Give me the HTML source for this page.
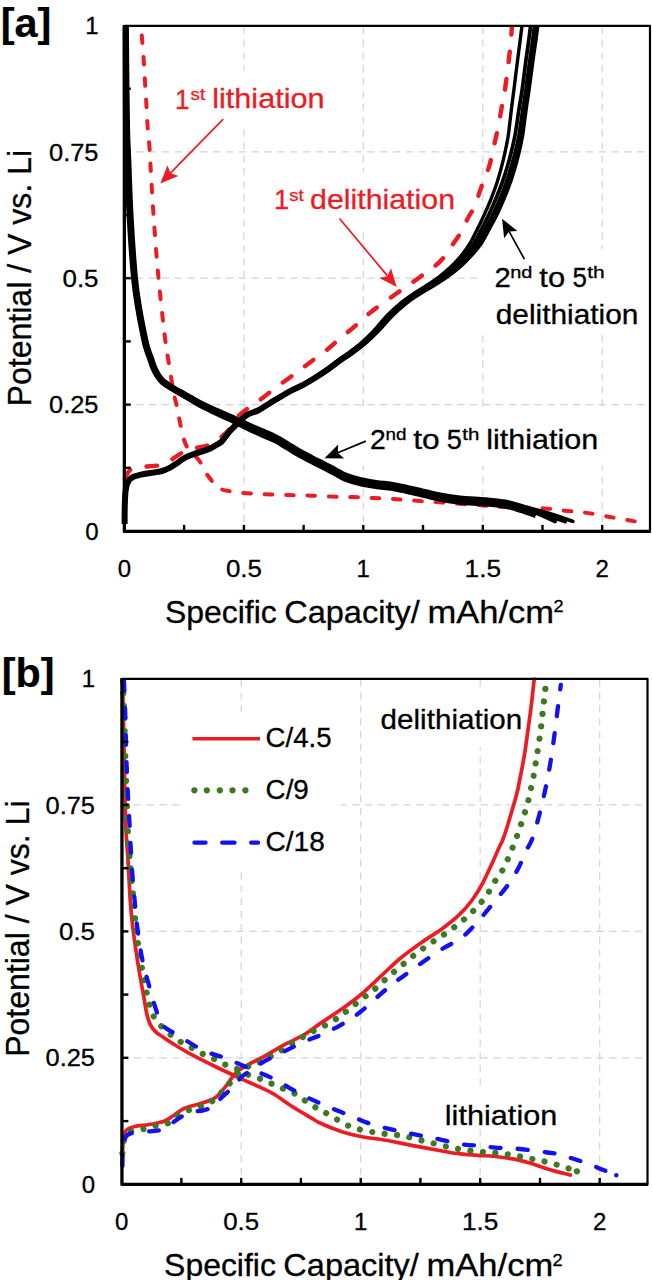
<!DOCTYPE html>
<html><head><meta charset="utf-8"><title>Potential vs specific capacity</title>
<style>
html,body{margin:0;padding:0;background:#fff;}
body{width:652px;height:1280px;overflow:hidden;}
svg{display:block;font-family:"Liberation Sans", sans-serif;}
</style></head><body>
<svg width="652" height="1280" viewBox="0 0 652 1280">
<defs><clipPath id="clipA"><rect x="122.7" y="24" width="529" height="510"/></clipPath></defs>
<rect width="652" height="1280" fill="#fff"/>
<line x1="243.9" y1="26.7" x2="243.9" y2="529.9" stroke="#cfd5dc" stroke-width="1.2" stroke-dasharray="7.2 5.65"/>
<line x1="363.3" y1="26.7" x2="363.3" y2="529.9" stroke="#cfd5dc" stroke-width="1.2" stroke-dasharray="7.2 5.65"/>
<line x1="482.8" y1="26.7" x2="482.8" y2="529.9" stroke="#cfd5dc" stroke-width="1.2" stroke-dasharray="7.2 5.65"/>
<line x1="602.2" y1="26.7" x2="602.2" y2="529.9" stroke="#cfd5dc" stroke-width="1.2" stroke-dasharray="7.2 5.65"/>
<line x1="123.1" y1="404.6" x2="649.0" y2="404.6" stroke="#cfd5dc" stroke-width="1.2" stroke-dasharray="7.4 5.45"/>
<line x1="123.1" y1="278.2" x2="649.0" y2="278.2" stroke="#cfd5dc" stroke-width="1.2" stroke-dasharray="7.4 5.45"/>
<line x1="123.1" y1="151.9" x2="649.0" y2="151.9" stroke="#cfd5dc" stroke-width="1.2" stroke-dasharray="7.4 5.45"/>
<rect x="172" y="71" width="155" height="57" fill="#fff"/>
<rect x="272" y="172" width="186" height="59" fill="#fff"/>
<rect x="477" y="249" width="171" height="84" fill="#fff"/>
<rect x="361" y="412" width="243" height="54" fill="#fff"/>
<path d="M141.8,35.5 C142.1,39.6 143.2,52.2 143.7,60.0 C144.2,67.8 144.6,74.8 145.0,82.0 C145.4,89.2 145.9,95.8 146.3,103.0 C146.7,110.2 147.0,117.8 147.5,125.0 C148.0,132.2 148.9,139.0 149.4,146.0 C149.9,153.0 149.9,155.3 150.6,167.0 C151.3,178.7 152.3,197.7 153.6,216.0 C154.9,234.3 156.5,256.7 158.4,277.0 C160.3,297.3 163.1,322.5 165.0,338.0 C166.9,353.5 168.6,361.0 170.0,370.0 C171.4,379.0 172.4,386.2 173.5,392.0 C174.6,397.8 175.5,400.3 176.5,405.0 C177.5,409.7 178.4,414.7 179.5,420.0 C180.6,425.3 182.0,432.7 183.2,437.0 C184.4,441.3 185.2,443.5 186.5,446.0 C187.8,448.5 189.4,450.2 191.0,452.0 C192.6,453.8 194.6,455.2 196.2,457.0 C197.8,458.8 199.3,460.5 200.8,463.0 C202.3,465.5 203.6,469.1 205.4,472.0 C207.2,474.9 209.7,478.2 211.6,480.6 C213.5,483.0 215.1,485.0 217.0,486.5 C218.9,488.0 220.8,489.0 223.0,489.8 C225.2,490.6 227.2,490.7 230.0,491.2 C232.8,491.7 234.7,492.3 240.0,492.8 C245.3,493.3 254.5,493.6 262.0,494.0 C269.5,494.4 277.7,494.8 285.0,495.0 C292.3,495.2 298.5,495.1 306.0,495.4 C313.5,495.6 322.3,496.2 330.0,496.5 C337.7,496.8 344.8,496.8 352.0,497.0 C359.2,497.2 366.2,497.7 373.0,498.0 C379.8,498.3 385.2,498.5 393.0,499.0 C400.8,499.5 407.2,500.1 420.0,501.0 C432.8,501.9 455.8,503.5 470.0,504.5 C484.2,505.5 492.7,506.4 505.0,507.0 C517.3,507.6 534.0,507.8 544.0,508.4 C554.0,509.0 558.2,510.0 565.0,510.7 C571.8,511.4 577.5,511.6 585.0,512.6 C592.5,513.6 601.7,515.5 610.0,517.0 C618.3,518.5 629.9,520.5 634.7,521.4 C639.5,522.3 638.3,522.1 639.0,522.2" fill="none" stroke="#ec1c24" stroke-width="4.0" stroke-linejoin="round" stroke-linecap="round" stroke-dasharray="7.6 13.8"/>
<path d="M124.9,479.0 C125.4,477.9 126.8,474.2 128.0,472.5 C129.2,470.8 130.0,469.9 131.8,469.0 C133.6,468.1 136.6,467.4 139.0,467.0 C141.4,466.6 143.0,466.8 146.4,466.5 C149.8,466.2 156.1,465.8 159.4,465.3 C162.7,464.8 163.8,464.5 166.0,463.5 C168.2,462.5 170.4,460.5 172.4,459.1 C174.4,457.7 176.1,456.6 178.0,455.3 C179.9,454.0 182.0,452.6 184.0,451.5 C186.0,450.4 187.7,449.7 190.0,449.0 C192.3,448.3 195.5,447.9 197.8,447.5 C200.1,447.1 202.0,446.8 204.0,446.3 C206.0,445.8 207.9,445.4 210.0,444.6 C212.1,443.8 214.5,442.9 216.5,441.5 C218.5,440.1 220.1,438.3 222.0,436.5 C223.9,434.7 226.1,433.1 227.9,430.9 C229.7,428.7 231.2,426.0 233.0,423.5 C234.8,421.0 236.5,418.2 238.7,415.9 C240.9,413.6 243.3,411.6 246.2,409.5 C249.0,407.4 252.8,405.1 255.8,403.0 C258.8,400.9 261.2,399.1 264.4,396.6 C267.6,394.1 270.9,391.2 275.2,388.0 C279.5,384.8 285.5,380.6 290.2,377.2 C294.9,373.8 298.8,370.8 303.1,367.6 C307.4,364.4 311.7,361.1 316.0,357.9 C320.3,354.7 325.2,351.2 328.8,348.3 C332.4,345.4 333.4,344.1 337.4,340.7 C341.4,337.3 347.3,332.6 353.0,327.8 C358.7,323.0 364.1,317.4 371.4,311.7 C378.7,305.9 388.6,299.1 396.7,293.3 C404.8,287.6 412.4,282.6 419.7,277.2 C427.0,271.8 434.6,267.0 440.4,261.1 C446.2,255.2 451.1,246.8 454.6,241.8 C458.1,236.8 459.2,235.2 461.5,231.1 C463.8,227.0 466.2,221.4 468.4,217.3 C470.6,213.2 472.6,210.9 474.5,206.6 C476.4,202.2 478.4,195.5 479.9,191.2 C481.4,186.8 482.2,184.6 483.7,180.5 C485.2,176.4 487.7,171.0 489.1,166.7 C490.5,162.3 491.0,159.0 492.1,154.4 C493.2,149.8 494.5,143.7 495.5,139.1 C496.5,134.5 497.4,131.4 498.3,126.8 C499.2,122.2 500.2,116.1 501.0,111.5 C501.8,106.9 502.3,103.4 503.0,99.2 C503.7,95.0 504.3,94.2 505.4,86.6 C506.5,78.9 508.5,63.1 509.6,53.3 C510.7,43.5 511.5,31.8 511.9,27.5" fill="none" stroke="#ec1c24" stroke-width="4.4" stroke-linejoin="round" stroke-linecap="round" stroke-dasharray="10.5 17"/>
<path d="M125.4,27.0 C125.5,35.8 125.7,62.8 125.9,80.0 C126.1,97.2 126.3,116.7 126.6,130.0 C126.9,143.3 127.2,145.7 127.8,160.0 C128.4,174.3 129.0,196.3 130.1,216.0 C131.2,235.7 133.0,262.3 134.5,278.0 C136.0,293.7 137.3,299.7 139.0,310.0 C140.7,320.3 143.4,333.3 144.8,340.0 C146.2,346.7 146.6,346.9 147.5,350.0 C148.4,353.1 149.5,355.5 150.5,358.3 C151.5,361.1 152.2,363.8 153.3,366.6 C154.5,369.4 155.8,372.4 157.4,374.9 C159.0,377.4 160.9,379.9 163.0,381.8 C165.1,383.8 167.2,384.9 169.9,386.6 C172.7,388.3 176.1,390.2 179.5,392.1 C182.9,394.1 186.7,396.1 190.6,398.3 C194.5,400.5 198.6,403.0 203.0,405.2 C207.4,407.4 212.2,409.4 216.8,411.5 C221.4,413.6 226.9,415.8 230.6,417.5 C234.3,419.2 235.4,419.8 239.0,421.5 C242.6,423.2 247.7,425.6 252.0,427.5 C256.3,429.4 260.8,431.2 265.0,433.0 C269.2,434.8 273.3,436.6 277.0,438.5 C280.7,440.4 283.3,442.3 287.0,444.5 C290.7,446.7 294.9,449.5 299.0,451.8 C303.1,454.1 307.4,456.3 311.7,458.5 C315.9,460.7 320.6,463.0 324.5,465.0 C328.4,467.0 331.5,468.7 335.0,470.5 C338.5,472.3 341.0,474.3 345.3,476.0 C349.6,477.7 355.6,479.4 360.7,480.6 C365.8,481.8 370.9,482.6 376.0,483.4 C381.1,484.2 386.2,484.4 391.3,485.2 C396.4,486.0 401.6,487.2 406.7,488.3 C411.8,489.4 416.4,490.5 422.0,491.8 C427.6,493.1 433.7,494.8 440.0,496.0 C446.3,497.2 452.3,498.2 460.0,499.0 C467.7,499.8 478.8,500.1 486.4,500.8 C493.9,501.5 499.6,501.9 505.3,503.0 C511.0,504.1 515.6,505.6 520.7,507.2 C525.8,508.8 533.5,511.6 536.0,512.5" fill="none" stroke="#000" stroke-width="7.0" stroke-linejoin="round" stroke-linecap="butt" clip-path="url(#clipA)"/>
<path d="M163.0,381.8 C164.2,382.6 167.2,384.8 169.9,386.6 C172.7,388.4 176.1,390.3 179.5,392.4 C182.9,394.4 186.7,396.6 190.6,398.8 C194.5,401.1 198.6,403.8 203.0,406.1 C207.4,408.4 212.2,410.6 216.8,412.7 C221.4,414.9 226.9,417.4 230.6,419.1 C234.3,420.9 235.4,421.6 239.0,423.3 C242.6,425.1 247.7,427.7 252.0,429.7 C256.3,431.7 260.8,433.5 265.0,435.4 C269.2,437.3 273.3,439.0 277.0,440.9 C280.7,442.8 283.3,444.7 287.0,446.9 C290.7,449.1 294.9,451.9 299.0,454.2 C303.1,456.5 307.4,458.7 311.7,460.9 C315.9,463.1 320.6,465.4 324.5,467.4 C328.4,469.4 331.5,471.1 335.0,472.9 C338.5,474.7 341.0,476.7 345.3,478.4 C349.6,480.1 355.6,481.8 360.7,483.0 C365.8,484.2 370.9,485.0 376.0,485.8 C381.1,486.6 386.2,486.8 391.3,487.6 C396.4,488.4 401.6,489.6 406.7,490.7 C411.8,491.8 416.4,492.9 422.0,494.2 C427.6,495.5 433.7,497.2 440.0,498.4 C446.3,499.6 452.3,500.6 460.0,501.4 C467.7,502.2 478.8,502.5 486.4,503.2 C493.9,503.9 499.6,504.3 505.3,505.4 C511.0,506.5 515.6,508.0 520.7,509.6 C525.8,511.2 533.5,514.0 536.0,514.9" fill="none" stroke="#000" stroke-width="6.6" stroke-linejoin="round" stroke-linecap="butt"/>
<path d="M515.0,505.5 C517.5,506.3 525.0,508.6 530.0,510.5 C535.0,512.4 540.8,515.1 545.0,517.0 C549.2,518.9 553.5,520.8 555.2,521.6" fill="none" stroke="#000" stroke-width="3.6" stroke-linejoin="round" stroke-linecap="round"/>
<path d="M515.0,505.3 C517.8,506.1 526.2,508.1 532.0,510.0 C537.8,511.9 544.5,514.5 550.0,516.5 C555.5,518.5 562.7,520.8 565.2,521.7" fill="none" stroke="#000" stroke-width="3.6" stroke-linejoin="round" stroke-linecap="round"/>
<path d="M515.0,505.0 C518.3,505.8 528.2,507.8 535.0,509.5 C541.8,511.2 549.7,513.5 556.0,515.5 C562.3,517.5 570.0,520.4 572.8,521.4" fill="none" stroke="#000" stroke-width="3.6" stroke-linejoin="round" stroke-linecap="round"/>
<path d="M124.2,524.0 C124.2,520.8 124.2,510.7 124.4,505.0 C124.6,499.3 124.6,494.1 125.3,490.0 C125.9,485.9 127.0,482.7 128.2,480.5 C129.5,478.3 130.8,477.8 132.8,476.8 C134.9,475.8 138.0,475.2 140.5,474.6 C143.1,474.0 145.4,473.8 148.2,473.3 C151.0,472.9 154.9,472.4 157.4,471.9 C160.0,471.4 161.5,471.0 163.5,470.3 C165.6,469.6 167.6,468.7 169.6,467.6 C171.7,466.5 173.8,465.1 175.8,463.7 C177.9,462.3 179.9,460.6 181.9,459.3 C183.9,458.0 185.8,457.0 188.0,456.0 C190.3,455.0 193.1,454.1 195.6,453.2 C198.2,452.3 200.7,451.7 203.3,450.8 C205.8,449.9 208.9,448.8 210.9,447.8 C213.0,446.8 213.9,446.0 215.5,445.0 C217.1,444.0 219.2,443.2 220.8,441.7 C222.4,440.2 223.8,437.8 225.2,436.0 C226.6,434.2 227.0,433.2 229.1,430.9 C231.2,428.6 234.9,425.0 237.7,422.3 C240.6,419.6 242.9,416.8 246.1,414.8 C249.3,412.8 253.7,412.1 256.9,410.5 C260.1,408.9 262.2,407.2 265.4,405.2 C268.6,403.2 272.1,401.0 276.0,398.7 C279.9,396.4 284.6,393.5 288.8,391.2 C293.1,388.9 297.4,387.1 301.7,384.8 C305.9,382.5 310.2,379.9 314.4,377.2 C318.7,374.5 323.1,371.5 327.1,368.7 C331.0,365.9 334.3,363.1 338.1,360.3 C341.9,357.5 346.0,355.0 350.0,352.0 C353.9,349.0 357.9,346.0 361.8,342.5 C365.7,339.0 369.4,335.5 373.6,331.0 C377.8,326.5 382.6,320.2 387.1,315.5 C391.6,310.8 396.2,306.7 400.7,303.0 C405.1,299.3 409.5,296.5 413.9,293.5 C418.3,290.5 422.7,288.1 427.0,285.2 C431.4,282.3 436.1,279.1 440.1,276.0 C444.1,272.9 447.3,270.2 450.9,266.8 C454.4,263.4 458.3,259.2 461.5,255.3 C464.7,251.4 467.2,248.0 470.0,243.4 C472.7,238.8 475.4,233.1 477.9,228.0 C480.4,222.9 483.0,217.8 485.2,212.7 C487.5,207.6 489.7,202.5 491.7,197.4 C493.6,192.3 495.5,187.1 497.2,182.0 C498.8,176.9 500.3,171.8 501.6,166.7 C502.9,161.6 504.1,156.4 505.2,151.3 C506.3,146.2 507.4,141.1 508.2,136.0 C509.0,130.9 509.4,125.8 510.1,120.7 C510.7,115.6 511.2,110.4 511.9,105.3 C512.5,100.2 512.9,97.5 513.9,90.0 C514.8,82.5 516.5,68.3 517.6,60.0 C518.7,51.7 519.5,45.7 520.2,40.0 C520.9,34.3 521.7,28.3 521.9,26.0" fill="none" stroke="#000" stroke-width="3.4" stroke-linejoin="round" stroke-linecap="butt"/>
<path d="M124.5,524.0 C124.5,520.8 124.5,510.7 124.7,505.0 C124.9,499.3 124.9,494.1 125.6,490.0 C126.2,485.9 127.3,482.7 128.6,480.5 C129.8,478.3 131.1,477.8 133.2,476.8 C135.2,475.8 138.3,475.2 140.9,474.6 C143.4,474.0 145.8,473.8 148.6,473.3 C151.4,472.9 155.2,472.4 157.8,471.9 C160.3,471.4 161.8,471.0 163.9,470.3 C165.9,469.6 167.9,468.7 170.0,467.6 C172.0,466.5 174.1,465.1 176.2,463.7 C178.2,462.3 180.2,460.6 182.3,459.3 C184.3,458.0 186.1,457.0 188.4,456.0 C190.7,455.0 193.5,454.1 196.0,453.2 C198.6,452.3 201.2,451.7 203.7,450.8 C206.3,449.9 209.4,448.8 211.4,447.8 C213.5,446.8 214.4,446.0 216.0,445.0 C217.7,444.0 219.7,443.2 221.3,441.7 C222.9,440.2 224.4,437.8 225.8,436.0 C227.2,434.2 227.6,433.2 229.8,430.9 C231.9,428.6 235.6,425.0 238.4,422.3 C241.3,419.6 243.7,416.8 246.9,414.8 C250.1,412.8 254.5,412.1 257.7,410.5 C260.9,408.9 263.1,407.2 266.3,405.2 C269.5,403.2 273.0,401.0 276.9,398.7 C280.9,396.4 285.5,393.5 289.8,391.2 C294.1,388.9 298.4,387.1 302.7,384.8 C307.0,382.5 311.3,379.9 315.6,377.2 C319.8,374.5 324.3,371.5 328.3,368.7 C332.3,365.9 335.6,363.1 339.5,360.3 C343.3,357.5 347.4,355.0 351.4,352.0 C355.4,349.0 359.4,346.0 363.4,342.5 C367.4,339.0 371.0,335.5 375.3,331.0 C379.6,326.5 384.5,320.2 389.0,315.5 C393.6,310.8 398.2,306.7 402.8,303.0 C407.3,299.3 411.8,296.5 416.3,293.5 C420.7,290.5 425.2,288.1 429.7,285.2 C434.1,282.3 439.0,279.1 443.1,276.0 C447.1,272.9 450.5,270.2 454.1,266.8 C457.8,263.4 461.8,259.2 465.1,255.3 C468.4,251.4 471.1,248.0 474.0,243.4 C476.8,238.8 479.5,233.1 482.1,228.0 C484.8,222.9 487.4,217.8 489.7,212.7 C492.1,207.6 494.3,202.5 496.4,197.4 C498.5,192.3 500.5,187.1 502.4,182.0 C504.2,176.9 505.8,171.8 507.3,166.7 C508.8,161.6 510.2,156.4 511.4,151.3 C512.7,146.2 513.9,141.1 514.9,136.0 C515.9,130.9 516.5,125.8 517.3,120.7 C518.0,115.6 518.8,110.4 519.6,105.3 C520.4,100.2 521.0,97.5 522.1,90.0 C523.2,82.5 524.9,68.3 526.0,60.0 C527.1,51.7 528.0,45.7 528.8,40.0 C529.5,34.3 530.3,28.3 530.6,26.0" fill="none" stroke="#000" stroke-width="3.7" stroke-linejoin="round" stroke-linecap="butt"/>
<path d="M124.7,524.0 C124.8,520.8 124.8,510.7 125.0,505.0 C125.1,499.3 125.2,494.1 125.9,490.0 C126.5,485.9 127.6,482.7 128.9,480.5 C130.1,478.3 131.4,477.8 133.5,476.8 C135.5,475.8 138.6,475.2 141.2,474.6 C143.7,474.0 146.1,473.8 148.9,473.3 C151.7,472.9 155.5,472.4 158.1,471.9 C160.6,471.4 162.1,471.0 164.2,470.3 C166.2,469.6 168.2,468.7 170.3,467.6 C172.3,466.5 174.4,465.1 176.5,463.7 C178.5,462.3 180.5,460.6 182.6,459.3 C184.6,458.0 186.5,457.0 188.8,456.0 C191.1,455.0 193.9,454.1 196.4,453.2 C199.0,452.3 201.6,451.7 204.1,450.8 C206.7,449.9 209.8,448.8 211.8,447.8 C213.9,446.8 214.8,446.0 216.4,445.0 C218.1,444.0 220.1,443.2 221.8,441.7 C223.4,440.2 224.9,437.8 226.3,436.0 C227.7,434.2 228.2,433.2 230.3,430.9 C232.4,428.6 236.2,425.0 239.0,422.3 C241.9,419.6 244.4,416.8 247.6,414.8 C250.8,412.8 255.2,412.1 258.4,410.5 C261.6,408.9 263.8,407.2 267.0,405.2 C270.3,403.2 273.8,401.0 277.8,398.7 C281.7,396.4 286.4,393.5 290.7,391.2 C295.0,388.9 299.3,387.1 303.6,384.8 C307.9,382.5 312.3,379.9 316.6,377.2 C320.9,374.5 325.4,371.5 329.4,368.7 C333.4,365.9 336.8,363.1 340.7,360.3 C344.6,357.5 348.7,355.0 352.7,352.0 C356.7,349.0 360.8,346.0 364.8,342.5 C368.8,339.0 372.5,335.5 376.9,331.0 C381.2,326.5 386.1,320.2 390.8,315.5 C395.4,310.8 400.1,306.7 404.7,303.0 C409.3,299.3 413.8,296.5 418.4,293.5 C422.9,290.5 427.5,288.1 432.0,285.2 C436.6,282.3 441.5,279.1 445.7,276.0 C449.8,272.9 453.2,270.2 457.0,266.8 C460.8,263.4 464.9,259.2 468.3,255.3 C471.7,251.4 474.6,248.0 477.5,243.4 C480.4,238.8 483.2,233.1 485.9,228.0 C488.6,222.9 491.3,217.8 493.8,212.7 C496.2,207.6 498.3,202.5 500.5,197.4 C502.6,192.3 504.6,187.1 506.4,182.0 C508.3,176.9 509.8,171.8 511.3,166.7 C512.8,161.6 514.2,156.4 515.5,151.3 C516.7,146.2 517.9,141.1 518.9,136.0 C519.8,130.9 520.4,125.8 521.2,120.7 C521.9,115.6 522.7,110.4 523.4,105.3 C524.2,100.2 524.8,97.5 525.9,90.0 C526.9,82.5 528.7,68.3 529.9,60.0 C531.0,51.7 531.9,45.7 532.7,40.0 C533.4,34.3 534.2,28.3 534.5,26.0" fill="none" stroke="#000" stroke-width="3.7" stroke-linejoin="round" stroke-linecap="butt"/>
<path d="M125.0,524.0 C125.0,520.8 125.0,510.7 125.2,505.0 C125.4,499.3 125.5,494.1 126.1,490.0 C126.8,485.9 127.9,482.7 129.2,480.5 C130.4,478.3 131.7,477.8 133.8,476.8 C135.8,475.8 138.9,475.2 141.5,474.6 C144.0,474.0 146.4,473.8 149.2,473.3 C152.0,472.9 155.8,472.4 158.4,471.9 C160.9,471.4 162.4,471.0 164.5,470.3 C166.5,469.6 168.5,468.7 170.6,467.6 C172.6,466.5 174.7,465.1 176.8,463.7 C178.8,462.3 180.8,460.6 182.9,459.3 C185.0,458.0 186.8,457.0 189.2,456.0 C191.5,455.0 194.2,454.1 196.8,453.2 C199.3,452.3 201.9,451.7 204.5,450.8 C207.1,449.9 210.2,448.8 212.3,447.8 C214.3,446.8 215.2,446.0 216.9,445.0 C218.6,444.0 220.6,443.2 222.2,441.7 C223.9,440.2 225.4,437.8 226.8,436.0 C228.2,434.2 228.7,433.2 230.9,430.9 C233.0,428.6 236.8,425.0 239.7,422.3 C242.6,419.6 245.0,416.8 248.3,414.8 C251.5,412.8 255.9,412.1 259.1,410.5 C262.4,408.9 264.5,407.2 267.8,405.2 C271.0,403.2 274.6,401.0 278.6,398.7 C282.5,396.4 287.2,393.5 291.6,391.2 C295.9,388.9 300.2,387.1 304.5,384.8 C308.9,382.5 313.2,379.9 317.6,377.2 C321.9,374.5 326.5,371.5 330.5,368.7 C334.6,365.9 338.0,363.1 341.9,360.3 C345.8,357.5 350.0,355.0 354.0,352.0 C358.1,349.0 362.1,346.0 366.2,342.5 C370.3,339.0 374.0,335.5 378.4,331.0 C382.8,326.5 387.8,320.2 392.5,315.5 C397.2,310.8 401.9,306.7 406.5,303.0 C411.2,299.3 415.8,296.5 420.5,293.5 C425.1,290.5 429.7,288.1 434.4,285.2 C439.0,282.3 444.0,279.1 448.3,276.0 C452.5,272.9 456.0,270.2 459.9,266.8 C463.8,263.4 468.0,259.2 471.5,255.3 C475.1,251.4 478.0,248.0 481.1,243.4 C484.1,238.8 486.9,233.1 489.7,228.0 C492.5,222.9 495.3,217.8 497.8,212.7 C500.2,207.6 502.4,202.5 504.5,197.4 C506.7,192.3 508.6,187.1 510.4,182.0 C512.2,176.9 513.7,171.8 515.2,166.7 C516.7,161.6 518.0,156.4 519.2,151.3 C520.4,146.2 521.5,141.1 522.4,136.0 C523.3,130.9 523.8,125.8 524.5,120.7 C525.2,115.6 525.9,110.4 526.6,105.3 C527.4,100.2 527.8,97.5 528.9,90.0 C529.9,82.5 531.8,68.3 532.9,60.0 C534.1,51.7 535.0,45.7 535.8,40.0 C536.6,34.3 537.3,28.3 537.7,26.0" fill="none" stroke="#000" stroke-width="3.7" stroke-linejoin="round" stroke-linecap="butt"/>
<path d="M419.4,293.5 C421.7,292.1 428.6,288.1 433.2,285.2 C437.8,282.3 442.8,279.1 447.0,276.0 C451.2,272.9 454.6,270.2 458.5,266.8 C462.3,263.4 466.5,259.2 469.9,255.3 C473.4,251.4 476.3,248.0 479.3,243.4 C482.3,238.8 485.1,233.1 487.8,228.0 C490.6,222.9 493.3,217.8 495.8,212.7 C498.2,207.6 500.4,202.5 502.5,197.4 C504.6,192.3 506.6,187.1 508.4,182.0 C510.2,176.9 511.8,171.8 513.3,166.7 C514.8,161.6 516.1,156.4 517.3,151.3 C518.6,146.2 519.7,141.1 520.6,136.0 C521.6,130.9 522.1,125.8 522.9,120.7 C523.6,115.6 524.3,110.4 525.0,105.3 C525.8,100.2 526.3,97.5 527.4,90.0 C528.4,82.5 530.3,68.3 531.4,60.0 C532.5,51.7 533.4,45.7 534.2,40.0 C535.0,34.3 535.8,28.3 536.1,26.0" fill="none" stroke="#000" stroke-width="3.6" stroke-linejoin="round" stroke-linecap="butt"/>
<path d="M124.6,524.0 C124.6,520.8 124.6,510.7 124.8,505.0 C125.0,499.3 125.1,494.1 125.7,490.0 C126.3,485.9 127.4,482.7 128.7,480.5 C130.0,478.3 131.2,477.8 133.3,476.8 C135.4,475.8 138.4,475.2 141.0,474.6 C143.6,474.0 145.9,473.8 148.7,473.3 C151.5,472.9 155.3,472.4 157.9,471.9 C160.5,471.4 162.0,471.0 164.0,470.3 C166.0,469.6 168.0,468.7 170.1,467.6 C172.2,466.5 174.2,465.1 176.3,463.7 C178.4,462.3 180.4,460.6 182.4,459.3 C184.4,458.0 186.3,457.0 188.6,456.0 C190.9,455.0 193.6,454.1 196.2,453.2 C198.8,452.3 201.3,451.7 203.9,450.8 C206.5,449.9 209.6,448.8 211.6,447.8 C213.6,446.8 214.5,446.0 216.2,445.0 C217.8,444.0 219.9,443.2 221.5,441.7 C223.1,440.2 224.6,437.8 226.0,436.0 C227.4,434.2 227.9,433.2 230.0,430.9 C232.1,428.6 235.8,425.0 238.7,422.3 C241.6,419.6 244.0,416.8 247.2,414.8 C250.4,412.8 254.8,412.1 258.0,410.5 C261.2,408.9 263.4,407.2 266.6,405.2 C269.8,403.2 273.4,401.0 277.3,398.7 C281.2,396.4 285.9,393.5 290.2,391.2 C294.5,388.9 298.8,387.1 303.1,384.8 C307.4,382.5 311.7,379.9 316.0,377.2 C320.3,374.5 324.8,371.5 328.8,368.7 C332.8,365.9 336.1,363.1 340.0,360.3 C343.9,357.5 348.0,355.0 352.0,352.0 C356.0,349.0 360.0,346.0 364.0,342.5 C368.0,339.0 371.7,335.5 376.0,331.0 C380.3,326.5 385.2,320.2 389.8,315.5 C394.4,310.8 399.0,306.7 403.6,303.0 C408.2,299.3 412.7,296.5 417.2,293.5 C421.7,290.5 426.2,288.1 430.7,285.2 C435.2,282.3 440.1,279.1 444.2,276.0 C448.3,272.9 453.5,268.3 455.4,266.8" fill="none" stroke="#000" stroke-width="6.0" stroke-linejoin="round" stroke-linecap="butt"/>
<line x1="223.2" y1="119.2" x2="170.4" y2="173.1" stroke="#ec1c24" stroke-width="1.7"/><polygon points="160.3,183.4 167.5,165.2 170.4,173.1 178.3,175.9" fill="#ec1c24"/>
<line x1="339.5" y1="218.5" x2="387.5" y2="275.9" stroke="#ec1c24" stroke-width="1.7"/><polygon points="396.7,287.0 379.3,278.1 387.5,275.9 391.0,268.3" fill="#ec1c24"/>
<line x1="524.4" y1="259.2" x2="509.1" y2="231.4" stroke="#000" stroke-width="1.7"/><polygon points="502.1,218.8 517.5,230.9 509.1,231.4 504.1,238.2" fill="#000"/>
<line x1="365.8" y1="441.1" x2="337.8" y2="452.8" stroke="#000" stroke-width="1.7"/><polygon points="324.5,458.3 338.2,444.4 337.8,452.8 344.0,458.4" fill="#000"/>
<text x="175.1" y="108.6" font-size="27.5" fill="#ec1c24" stroke="#ec1c24" stroke-width="0.30" font-weight="normal" text-anchor="start" textLength="14.6" lengthAdjust="spacingAndGlyphs">1</text>
<text x="190.6" y="100.2" font-size="16.8" fill="#ec1c24" stroke="#ec1c24" stroke-width="0.30" font-weight="normal" text-anchor="start" textLength="14.6" lengthAdjust="spacingAndGlyphs">st</text>
<text x="212.2" y="108.4" font-size="27.2" fill="#ec1c24" stroke="#ec1c24" stroke-width="0.30" font-weight="normal" text-anchor="start" textLength="112.4" lengthAdjust="spacingAndGlyphs">lithiation</text>
<text x="273.9" y="209.3" font-size="27.5" fill="#ec1c24" stroke="#ec1c24" stroke-width="0.30" font-weight="normal" text-anchor="start" textLength="15.2" lengthAdjust="spacingAndGlyphs">1</text>
<text x="289.3" y="200.5" font-size="16.8" fill="#ec1c24" stroke="#ec1c24" stroke-width="0.30" font-weight="normal" text-anchor="start" textLength="14.5" lengthAdjust="spacingAndGlyphs">st</text>
<text x="310.1" y="209.3" font-size="27.2" fill="#ec1c24" stroke="#ec1c24" stroke-width="0.30" font-weight="normal" text-anchor="start" textLength="144.9" lengthAdjust="spacingAndGlyphs">delithiation</text>
<text x="494.6" y="287.3" font-size="27.5" fill="#000" stroke="#000" stroke-width="0.30" font-weight="normal" text-anchor="start" textLength="16.3" lengthAdjust="spacingAndGlyphs">2</text>
<text x="510.2" y="278.1" font-size="16.5" fill="#000" stroke="#000" stroke-width="0.30" font-weight="normal" text-anchor="start" textLength="22.2" lengthAdjust="spacingAndGlyphs">nd</text>
<text x="539.3" y="287.3" font-size="27.5" fill="#000" stroke="#000" stroke-width="0.30" font-weight="normal" text-anchor="start" textLength="25.8" lengthAdjust="spacingAndGlyphs">to</text>
<text x="572.5" y="287.3" font-size="27.5" fill="#000" stroke="#000" stroke-width="0.30" font-weight="normal" text-anchor="start" textLength="14.4" lengthAdjust="spacingAndGlyphs">5</text>
<text x="587.2" y="278.1" font-size="16.5" fill="#000" stroke="#000" stroke-width="0.30" font-weight="normal" text-anchor="start" textLength="17.5" lengthAdjust="spacingAndGlyphs">th</text>
<text x="495.7" y="323.7" font-size="27.2" fill="#000" stroke="#000" stroke-width="0.30" font-weight="normal" text-anchor="start" textLength="142.8" lengthAdjust="spacingAndGlyphs">delithiation</text>
<text x="370.0" y="449.4" font-size="27.5" fill="#000" stroke="#000" stroke-width="0.30" font-weight="normal" text-anchor="start" textLength="15.8" lengthAdjust="spacingAndGlyphs">2</text>
<text x="385.5" y="440.2" font-size="16.5" fill="#000" stroke="#000" stroke-width="0.30" font-weight="normal" text-anchor="start" textLength="20.9" lengthAdjust="spacingAndGlyphs">nd</text>
<text x="413.3" y="449.4" font-size="27.5" fill="#000" stroke="#000" stroke-width="0.30" font-weight="normal" text-anchor="start" textLength="26.5" lengthAdjust="spacingAndGlyphs">to</text>
<text x="446.7" y="449.4" font-size="27.5" fill="#000" stroke="#000" stroke-width="0.30" font-weight="normal" text-anchor="start" textLength="15.1" lengthAdjust="spacingAndGlyphs">5</text>
<text x="462.2" y="440.2" font-size="16.5" fill="#000" stroke="#000" stroke-width="0.30" font-weight="normal" text-anchor="start" textLength="17.1" lengthAdjust="spacingAndGlyphs">th</text>
<text x="486.3" y="449.2" font-size="27.2" fill="#000" stroke="#000" stroke-width="0.30" font-weight="normal" text-anchor="start" textLength="111.9" lengthAdjust="spacingAndGlyphs">lithiation</text>
<path d="M124.35,25.90 H650.00 V531.40" fill="none" stroke="#000" stroke-width="2.2" stroke-linejoin="round"/>
<path d="M124.35,25.10 V531.40 H650.80" fill="none" stroke="#000" stroke-width="3.3" stroke-linejoin="round"/>
<line x1="124.3" y1="467.8" x2="130.8" y2="467.8" stroke="#000" stroke-width="2.4"/>
<line x1="124.3" y1="404.6" x2="130.8" y2="404.6" stroke="#000" stroke-width="2.4"/>
<line x1="124.3" y1="341.4" x2="130.8" y2="341.4" stroke="#000" stroke-width="2.4"/>
<line x1="124.3" y1="278.2" x2="130.8" y2="278.2" stroke="#000" stroke-width="2.4"/>
<line x1="124.3" y1="215.1" x2="130.8" y2="215.1" stroke="#000" stroke-width="2.4"/>
<line x1="124.3" y1="151.9" x2="130.8" y2="151.9" stroke="#000" stroke-width="2.4"/>
<line x1="124.3" y1="88.7" x2="130.8" y2="88.7" stroke="#000" stroke-width="2.4"/>
<line x1="184.1" y1="531.4" x2="184.1" y2="524.9" stroke="#000" stroke-width="2.4"/>
<line x1="243.9" y1="531.4" x2="243.9" y2="524.9" stroke="#000" stroke-width="2.4"/>
<line x1="303.6" y1="531.4" x2="303.6" y2="524.9" stroke="#000" stroke-width="2.4"/>
<line x1="363.3" y1="531.4" x2="363.3" y2="524.9" stroke="#000" stroke-width="2.4"/>
<line x1="423.0" y1="531.4" x2="423.0" y2="524.9" stroke="#000" stroke-width="2.4"/>
<line x1="482.8" y1="531.4" x2="482.8" y2="524.9" stroke="#000" stroke-width="2.4"/>
<line x1="542.5" y1="531.4" x2="542.5" y2="524.9" stroke="#000" stroke-width="2.4"/>
<line x1="602.2" y1="531.4" x2="602.2" y2="524.9" stroke="#000" stroke-width="2.4"/>
<text x="98.5" y="539.6" font-size="24.0" fill="#000" stroke="#000" stroke-width="0.30" font-weight="normal" text-anchor="end">0</text>
<text x="98.5" y="413.2" font-size="24.0" fill="#000" stroke="#000" stroke-width="0.30" font-weight="normal" text-anchor="end" textLength="49.5" lengthAdjust="spacingAndGlyphs">0.25</text>
<text x="98.5" y="286.9" font-size="24.0" fill="#000" stroke="#000" stroke-width="0.30" font-weight="normal" text-anchor="end" textLength="36.0" lengthAdjust="spacingAndGlyphs">0.5</text>
<text x="98.5" y="160.5" font-size="24.0" fill="#000" stroke="#000" stroke-width="0.30" font-weight="normal" text-anchor="end" textLength="49.5" lengthAdjust="spacingAndGlyphs">0.75</text>
<text x="98.5" y="34.1" font-size="24.0" fill="#000" stroke="#000" stroke-width="0.30" font-weight="normal" text-anchor="end">1</text>
<text x="124.4" y="576.5" font-size="24.0" fill="#000" stroke="#000" stroke-width="0.30" font-weight="normal" text-anchor="middle">0</text>
<text x="243.9" y="576.5" font-size="24.0" fill="#000" stroke="#000" stroke-width="0.30" font-weight="normal" text-anchor="middle" textLength="36.0" lengthAdjust="spacingAndGlyphs">0.5</text>
<text x="363.3" y="576.5" font-size="24.0" fill="#000" stroke="#000" stroke-width="0.30" font-weight="normal" text-anchor="middle">1</text>
<text x="482.8" y="576.5" font-size="24.0" fill="#000" stroke="#000" stroke-width="0.30" font-weight="normal" text-anchor="middle" textLength="36.5" lengthAdjust="spacingAndGlyphs">1.5</text>
<text x="602.2" y="576.5" font-size="24.0" fill="#000" stroke="#000" stroke-width="0.30" font-weight="normal" text-anchor="middle">2</text>
<text x="0.7" y="37.2" font-size="40.6" fill="#000" stroke="#000" stroke-width="0.20" font-weight="bold" text-anchor="start" textLength="50.7" lengthAdjust="spacingAndGlyphs">[a]</text>
<text x="-2.56" y="0" font-size="32.5" fill="#000" stroke="#000" stroke-width="0.3" textLength="256.47" lengthAdjust="spacingAndGlyphs" transform="translate(31.00,403.90) rotate(-90)">Potential / V vs. Li</text>
<text x="165.0" y="622.5" font-size="31.5" fill="#000" stroke="#000" stroke-width="0.30" font-weight="normal" text-anchor="start" textLength="111.8" lengthAdjust="spacingAndGlyphs">Specific</text>
<text x="284.2" y="622.5" font-size="31.5" fill="#000" stroke="#000" stroke-width="0.30" font-weight="normal" text-anchor="start" textLength="135.6" lengthAdjust="spacingAndGlyphs">Capacity/</text>
<text x="427.4" y="622.5" font-size="31.5" fill="#000" stroke="#000" stroke-width="0.30" font-weight="normal" text-anchor="start" textLength="126.7" lengthAdjust="spacingAndGlyphs">mAh/cm</text>
<text x="553.5" y="612.4" font-size="17.0" fill="#000" stroke="#000" stroke-width="0.30" font-weight="normal" text-anchor="start" textLength="10.1" lengthAdjust="spacingAndGlyphs">2</text>
<line x1="241.2" y1="679.6" x2="241.2" y2="1182.9" stroke="#cfd5dc" stroke-width="1.2" stroke-dasharray="7.2 5.65"/>
<line x1="360.7" y1="679.6" x2="360.7" y2="1182.9" stroke="#cfd5dc" stroke-width="1.2" stroke-dasharray="7.2 5.65"/>
<line x1="480.2" y1="679.6" x2="480.2" y2="1182.9" stroke="#cfd5dc" stroke-width="1.2" stroke-dasharray="7.2 5.65"/>
<line x1="599.7" y1="679.6" x2="599.7" y2="1182.9" stroke="#cfd5dc" stroke-width="1.2" stroke-dasharray="7.2 5.65"/>
<line x1="120.8" y1="1057.8" x2="646.5" y2="1057.8" stroke="#cfd5dc" stroke-width="1.2" stroke-dasharray="7.4 5.45"/>
<line x1="120.8" y1="931.4" x2="646.5" y2="931.4" stroke="#cfd5dc" stroke-width="1.2" stroke-dasharray="7.4 5.45"/>
<line x1="120.8" y1="804.9" x2="646.5" y2="804.9" stroke="#cfd5dc" stroke-width="1.2" stroke-dasharray="7.4 5.45"/>
<rect x="180" y="712" width="161" height="159" fill="#fff"/>
<rect x="377" y="687" width="150" height="60" fill="#fff"/>
<rect x="443" y="1086" width="116" height="42" fill="#fff"/>
<path d="M122.5,680.0 C122.7,686.7 123.1,702.2 123.5,720.0 C123.9,737.8 124.3,768.7 124.7,787.0 C125.1,805.3 125.4,817.5 126.0,830.0 C126.6,842.5 127.4,850.3 128.1,862.0 C128.8,873.7 129.6,891.2 130.2,900.0 C130.8,908.8 130.9,909.4 131.5,915.0 C132.1,920.6 132.4,925.0 133.6,933.7 C134.8,942.5 136.9,957.3 138.6,967.5 C140.2,977.7 142.1,987.1 143.5,995.0 C144.9,1002.9 145.8,1009.7 147.0,1014.7 C148.2,1019.7 149.0,1022.0 150.4,1024.8 C151.8,1027.6 153.5,1029.6 155.5,1031.6 C157.5,1033.6 159.4,1034.6 162.2,1036.6 C165.0,1038.6 167.3,1040.3 172.4,1043.4 C177.5,1046.5 185.3,1051.3 192.6,1055.2 C199.9,1059.1 208.3,1063.2 216.2,1067.0 C224.1,1070.8 232.5,1074.7 239.8,1078.1 C247.1,1081.5 254.5,1084.5 260.1,1087.2 C265.7,1089.9 268.0,1090.6 273.6,1094.0 C279.2,1097.4 287.6,1103.6 293.8,1107.5 C300.0,1111.4 306.3,1115.0 310.7,1117.6 C315.1,1120.2 315.1,1120.7 320.0,1123.0 C324.9,1125.3 333.6,1129.0 340.4,1131.2 C347.2,1133.5 353.1,1135.0 360.7,1136.5 C368.3,1138.0 377.7,1138.8 386.2,1140.3 C394.7,1141.8 402.3,1143.6 411.6,1145.4 C420.9,1147.2 434.1,1149.6 442.2,1151.0 C450.3,1152.4 454.1,1153.2 460.0,1153.9 C465.9,1154.6 471.8,1155.0 477.7,1155.4 C483.6,1155.8 489.4,1155.9 495.3,1156.5 C501.2,1157.1 507.1,1157.8 513.0,1158.9 C518.9,1160.0 524.8,1161.6 530.7,1163.3 C536.6,1165.0 541.7,1167.2 548.3,1169.2 C554.9,1171.2 566.7,1174.1 570.4,1175.1" fill="none" stroke="#ec1c24" stroke-width="3.7" stroke-linejoin="round" stroke-linecap="round"/>
<path d="M122.5,1152.0 C122.7,1149.7 122.9,1141.6 123.5,1138.0 C124.1,1134.4 124.2,1132.4 126.0,1130.5 C127.8,1128.6 130.7,1127.5 134.6,1126.5 C138.5,1125.5 144.5,1125.4 149.4,1124.5 C154.3,1123.6 160.0,1122.8 164.1,1121.3 C168.2,1119.8 170.6,1117.3 173.9,1115.2 C177.2,1113.1 179.9,1110.3 184.0,1108.5 C188.1,1106.7 194.2,1105.5 198.4,1104.2 C202.7,1102.9 206.5,1101.7 209.5,1100.5 C212.5,1099.3 214.3,1098.4 216.2,1097.0 C218.1,1095.6 219.3,1093.9 221.0,1092.0 C222.7,1090.1 223.7,1088.9 226.3,1085.6 C228.9,1082.3 232.8,1075.6 236.5,1072.1 C240.2,1068.6 243.8,1067.0 248.3,1064.5 C252.8,1062.0 257.5,1060.1 263.4,1056.9 C269.3,1053.7 276.9,1048.8 283.7,1045.1 C290.4,1041.4 297.8,1038.5 303.9,1034.9 C309.9,1031.3 313.9,1027.7 320.0,1023.6 C326.1,1019.5 333.4,1014.9 340.2,1010.1 C346.9,1005.3 353.8,1000.6 360.5,995.0 C367.2,989.4 373.9,982.6 380.7,976.4 C387.4,970.2 394.2,963.4 401.0,957.8 C407.8,952.2 414.4,947.5 421.2,942.7 C427.9,937.9 435.3,933.7 441.5,929.2 C447.7,924.7 453.2,920.5 458.3,915.7 C463.4,910.9 467.8,905.9 471.8,900.5 C475.8,895.1 479.2,889.6 482.5,883.5 C485.8,877.4 489.3,869.4 491.8,864.0 C494.3,858.6 495.7,855.0 497.5,851.0 C499.3,847.0 501.1,843.8 502.7,840.0 C504.2,836.2 505.5,832.2 506.8,828.0 C508.1,823.8 509.4,819.3 510.7,815.0 C512.0,810.7 513.3,806.2 514.5,802.0 C515.7,797.8 516.7,794.3 517.7,790.0 C518.7,785.7 519.6,780.3 520.5,776.0 C521.4,771.7 522.0,768.3 522.8,764.0 C523.6,759.7 524.3,755.8 525.2,750.0 C526.1,744.2 527.1,736.2 528.1,729.0 C529.1,721.8 530.1,715.3 531.1,707.0 C532.1,698.7 533.7,683.7 534.2,679.0" fill="none" stroke="#ec1c24" stroke-width="3.7" stroke-linejoin="round" stroke-linecap="round"/>
<path d="M123.0,681.0 C123.1,683.4 123.2,688.8 123.4,695.6 C123.6,702.4 124.1,711.2 124.4,721.8 C124.7,732.4 125.0,748.7 125.3,759.3 C125.6,769.9 125.9,776.8 126.2,785.5 C126.5,794.2 126.9,802.9 127.2,811.4 C127.5,819.9 127.6,828.0 128.1,836.5 C128.6,845.0 129.3,853.9 130.0,862.4 C130.7,870.9 131.6,881.3 132.2,887.6 C132.8,893.9 133.0,893.4 133.6,900.0 C134.2,906.6 134.9,918.3 135.9,927.0 C136.9,935.7 137.6,941.9 139.3,952.3 C141.0,962.7 143.9,979.3 146.0,989.4 C148.1,999.5 149.8,1007.2 152.1,1013.0 C154.3,1018.8 156.7,1020.8 159.5,1024.2 C162.3,1027.6 165.7,1030.5 169.0,1033.3 C172.3,1036.1 175.4,1038.7 179.1,1041.0 C182.8,1043.3 187.1,1045.3 190.9,1047.4 C194.7,1049.5 198.2,1051.6 202.0,1053.5 C205.8,1055.4 209.7,1056.8 213.5,1058.6 C217.3,1060.4 220.8,1062.6 224.6,1064.3 C228.4,1066.0 232.6,1067.0 236.5,1068.7 C240.4,1070.5 244.4,1073.1 248.3,1074.8 C252.2,1076.5 256.2,1077.3 260.1,1078.8 C264.0,1080.3 268.0,1082.2 271.9,1083.9 C275.8,1085.6 279.8,1087.2 283.7,1088.9 C287.6,1090.6 291.7,1091.8 295.5,1094.0 C299.3,1096.2 303.0,1099.4 306.6,1101.8 C310.2,1104.2 313.8,1106.4 317.4,1108.5 C321.0,1110.6 322.7,1111.2 328.2,1114.2 C333.7,1117.2 342.5,1123.5 350.5,1126.6 C358.5,1129.7 367.5,1131.2 376.0,1132.7 C384.5,1134.2 393.0,1134.2 401.5,1135.7 C410.0,1137.2 418.4,1139.8 426.9,1141.8 C435.4,1143.8 444.1,1146.3 452.4,1147.9 C460.7,1149.5 470.6,1150.8 476.8,1151.5 C483.0,1152.2 485.2,1152.1 489.4,1152.4 C493.6,1152.8 497.9,1153.1 502.1,1153.6 C506.3,1154.1 510.3,1154.7 514.5,1155.4 C518.7,1156.1 522.9,1157.2 527.1,1158.0 C531.3,1158.8 535.4,1159.5 539.5,1160.4 C543.6,1161.3 547.7,1162.2 551.9,1163.3 C556.1,1164.4 560.3,1165.8 564.5,1167.1 C568.7,1168.4 574.8,1170.6 576.9,1171.3" fill="none" stroke="#3d7a23" stroke-width="6.2" stroke-linejoin="round" stroke-linecap="round" stroke-dasharray="0.01 12.5"/>
<path d="M122.4,1153.3 C122.7,1151.1 122.6,1143.7 124.0,1140.0 C125.4,1136.3 127.8,1133.0 131.0,1131.2 C134.2,1129.4 139.1,1130.1 143.2,1129.2 C147.3,1128.3 151.4,1126.8 155.5,1125.8 C159.6,1124.8 164.0,1125.1 167.8,1123.3 C171.6,1121.5 174.6,1117.5 178.3,1115.2 C182.0,1113.0 185.8,1111.3 189.8,1109.8 C193.8,1108.2 198.2,1107.5 202.1,1105.9 C206.0,1104.4 209.8,1102.9 213.2,1100.5 C216.6,1098.1 219.6,1094.5 222.5,1091.4 C225.4,1088.3 227.9,1085.3 230.8,1082.1 C233.8,1078.9 236.7,1075.2 240.2,1072.3 C243.7,1069.4 247.8,1066.4 251.6,1064.6 C255.4,1062.8 259.1,1063.0 262.8,1061.3 C266.5,1059.6 270.0,1056.6 273.6,1054.5 C277.2,1052.4 281.1,1050.8 284.7,1048.5 C288.3,1046.2 291.9,1043.2 295.5,1041.0 C299.1,1038.8 303.0,1037.0 306.6,1035.0 C310.2,1033.0 313.5,1030.9 317.4,1028.9 C321.3,1026.9 326.3,1025.2 330.1,1023.0 C333.9,1020.8 336.8,1018.3 340.2,1015.9 C343.6,1013.5 347.0,1011.0 350.4,1008.4 C353.8,1005.8 357.1,1002.6 360.5,1000.0 C363.9,997.4 367.3,995.2 370.6,992.6 C373.9,990.0 376.9,987.1 380.1,984.2 C383.3,981.3 386.6,978.2 389.8,975.4 C393.1,972.6 396.3,970.0 399.6,967.3 C402.9,964.5 406.1,961.6 409.4,958.9 C412.7,956.2 416.1,953.6 419.5,951.1 C422.9,948.6 426.4,946.1 430.0,943.7 C433.6,941.3 437.2,939.0 440.8,936.6 C444.4,934.2 448.1,931.7 451.6,929.2 C455.1,926.7 458.4,924.1 461.7,921.4 C464.9,918.7 468.1,915.9 471.1,913.0 C474.1,910.1 477.1,907.1 479.9,903.9 C482.7,900.7 485.2,897.5 487.7,893.7 C490.2,889.9 492.6,885.0 494.9,881.3 C497.2,877.6 499.6,875.2 501.6,871.7 C503.7,868.2 505.4,864.2 507.2,860.4 C509.0,856.6 510.6,852.7 512.2,848.7 C513.8,844.7 515.5,840.4 516.9,836.4 C518.3,832.4 519.6,828.8 520.9,824.8 C522.2,820.8 523.6,816.6 524.9,812.4 C526.2,808.2 527.5,803.9 528.5,799.8 C529.5,795.6 530.3,791.7 531.2,787.5 C532.1,783.3 533.0,779.0 533.8,774.8 C534.6,770.6 535.1,766.6 535.8,762.5 C536.5,758.4 537.1,754.2 537.8,749.9 C538.5,745.6 539.2,740.9 539.8,736.6 C540.4,732.3 541.0,728.1 541.5,723.9 C542.0,719.7 542.3,715.8 542.8,711.6 C543.2,707.5 543.7,703.3 544.2,699.0 C544.7,694.7 545.5,687.8 545.8,685.6" fill="none" stroke="#3d7a23" stroke-width="6.2" stroke-linejoin="round" stroke-linecap="round" stroke-dasharray="0.01 12.5"/>
<path d="M124.0,681.0 C124.2,686.7 125.0,705.2 125.3,715.0 C125.6,724.8 125.7,730.8 125.9,740.0 C126.2,749.2 126.4,760.3 126.8,770.0 C127.2,779.7 127.6,788.8 128.1,798.0 C128.6,807.2 129.1,815.8 129.6,825.0 C130.1,834.2 130.5,843.8 131.0,853.0 C131.5,862.2 132.2,872.2 132.8,880.0 C133.4,887.8 133.9,892.5 134.6,900.0 C135.3,907.5 135.8,915.3 137.0,925.0 C138.2,934.7 140.1,948.1 142.0,958.0 C143.9,967.9 146.4,976.0 148.7,984.3 C150.9,992.6 153.2,1001.2 155.5,1008.0 C157.8,1014.8 158.5,1020.3 162.2,1024.8 C165.8,1029.3 170.7,1030.8 177.4,1035.0 C184.2,1039.2 194.5,1046.2 202.7,1050.1 C210.8,1054.0 218.4,1055.5 226.3,1058.6 C234.2,1061.7 242.1,1065.3 250.0,1068.7 C257.9,1072.1 265.7,1074.9 273.6,1078.8 C281.5,1082.7 289.4,1088.2 297.2,1092.3 C305.0,1096.4 312.4,1099.9 320.5,1103.5 C328.6,1107.1 337.1,1110.4 345.5,1113.8 C353.9,1117.2 361.6,1121.0 370.9,1124.0 C380.2,1127.0 391.3,1129.4 401.5,1131.7 C411.7,1134.0 421.8,1135.7 432.0,1137.8 C442.2,1139.9 454.5,1143.1 462.6,1144.4 C470.7,1145.7 475.2,1145.0 480.6,1145.6 C486.1,1146.1 489.4,1147.2 495.3,1147.7 C501.2,1148.2 508.6,1148.0 516.0,1148.6 C523.4,1149.2 532.6,1150.6 539.5,1151.5 C546.4,1152.4 551.8,1152.8 557.2,1153.9 C562.6,1155.0 567.0,1156.7 571.9,1158.3 C576.8,1159.9 581.7,1161.5 586.6,1163.3 C591.5,1165.1 596.4,1167.2 601.3,1169.2 C606.2,1171.2 613.6,1174.1 616.1,1175.1" fill="none" stroke="#1212f0" stroke-width="4.3" stroke-linejoin="round" stroke-linecap="round" stroke-dasharray="10 17"/>
<circle cx="616.3" cy="1175.2" r="2.2" fill="#1212f0"/>
<circle cx="576.9" cy="1171.3" r="3.1" fill="#3d7a23"/>
<path d="M122.4,1166.0 C122.5,1163.3 122.4,1154.9 123.0,1150.0 C123.6,1145.1 124.1,1139.4 126.0,1136.5 C127.9,1133.6 130.3,1133.5 134.6,1132.6 C138.9,1131.7 146.9,1131.8 151.8,1131.2 C156.7,1130.6 160.0,1130.6 164.1,1128.7 C168.2,1126.8 172.2,1122.8 176.3,1120.1 C180.4,1117.4 184.1,1114.4 188.6,1112.8 C193.1,1111.2 199.2,1111.3 203.3,1110.3 C207.4,1109.3 210.5,1108.4 213.2,1106.6 C215.9,1104.8 216.3,1102.8 219.6,1099.5 C222.9,1096.2 229.0,1090.9 232.8,1087.0 C236.6,1083.1 239.3,1078.9 242.6,1076.0 C245.9,1073.1 248.9,1072.1 252.4,1069.8 C255.9,1067.5 258.2,1064.9 263.4,1061.9 C268.6,1058.9 276.9,1055.2 283.7,1051.8 C290.5,1048.4 297.9,1044.4 304.0,1041.7 C310.1,1039.0 314.0,1038.1 320.0,1035.4 C326.0,1032.7 333.4,1029.2 340.2,1025.3 C346.9,1021.4 352.6,1018.0 360.5,1011.8 C368.4,1005.6 378.5,995.5 387.5,988.2 C396.5,980.9 405.5,974.5 414.5,968.0 C423.5,961.5 433.6,954.5 441.5,949.4 C449.4,944.3 455.5,942.4 461.7,937.6 C467.9,932.8 473.0,926.9 478.6,920.7 C484.2,914.5 490.3,906.7 495.4,900.5 C500.4,894.3 504.9,889.2 508.9,883.6 C512.9,878.0 516.2,872.3 519.1,866.7 C522.0,861.1 524.1,855.0 526.5,850.0 C528.9,845.0 530.6,844.2 533.2,836.4 C535.8,828.6 539.5,814.2 542.2,803.1 C544.9,792.0 547.2,780.9 549.2,769.8 C551.2,758.7 552.6,748.2 554.2,736.6 C555.8,725.0 557.7,708.6 558.8,700.0 C559.9,691.4 560.5,687.5 560.8,685.0" fill="none" stroke="#1212f0" stroke-width="4.3" stroke-linejoin="round" stroke-linecap="round" stroke-dasharray="10 17"/>
<line x1="192.4" y1="738.7" x2="260.1" y2="738.7" stroke="#ec1c24" stroke-width="3.4"/>
<circle cx="194.4" cy="790.3" r="3.1" fill="#3d7a23"/>
<circle cx="206.8" cy="790.3" r="3.1" fill="#3d7a23"/>
<circle cx="219.8" cy="790.3" r="3.1" fill="#3d7a23"/>
<circle cx="232.5" cy="790.3" r="3.1" fill="#3d7a23"/>
<circle cx="245.4" cy="790.3" r="3.1" fill="#3d7a23"/>
<line x1="194.5" y1="842.7" x2="205.5" y2="842.7" stroke="#1212f0" stroke-width="4.3" stroke-linecap="round"/>
<line x1="222.2" y1="842.7" x2="234.5" y2="842.7" stroke="#1212f0" stroke-width="4.3" stroke-linecap="round"/>
<line x1="251.2" y1="842.7" x2="258.0" y2="842.7" stroke="#1212f0" stroke-width="4.3" stroke-linecap="round"/>
<text x="265.6" y="747.0" font-size="27.0" fill="#000" stroke="#000" stroke-width="0.30" font-weight="normal" text-anchor="start" textLength="66.0" lengthAdjust="spacingAndGlyphs">C/4.5</text>
<text x="265.6" y="799.4" font-size="27.0" fill="#000" stroke="#000" stroke-width="0.30" font-weight="normal" text-anchor="start" textLength="43.2" lengthAdjust="spacingAndGlyphs">C/9</text>
<text x="265.6" y="851.3" font-size="27.0" fill="#000" stroke="#000" stroke-width="0.30" font-weight="normal" text-anchor="start" textLength="59.2" lengthAdjust="spacingAndGlyphs">C/18</text>
<text x="380.6" y="729.0" font-size="28.0" fill="#000" stroke="#000" stroke-width="0.30" font-weight="normal" text-anchor="start" textLength="141.6" lengthAdjust="spacingAndGlyphs">delithiation</text>
<text x="444.8" y="1125.4" font-size="28.0" fill="#000" stroke="#000" stroke-width="0.30" font-weight="normal" text-anchor="start" textLength="112.5" lengthAdjust="spacingAndGlyphs">lithiation</text>
<path d="M121.95,678.80 H647.50 V1184.40" fill="none" stroke="#000" stroke-width="2.2" stroke-linejoin="round"/>
<path d="M121.95,678.00 V1184.40 H648.30" fill="none" stroke="#000" stroke-width="3.3" stroke-linejoin="round"/>
<line x1="122.0" y1="1121.1" x2="128.4" y2="1121.1" stroke="#000" stroke-width="2.4"/>
<line x1="122.0" y1="1057.8" x2="128.4" y2="1057.8" stroke="#000" stroke-width="2.4"/>
<line x1="122.0" y1="994.6" x2="128.4" y2="994.6" stroke="#000" stroke-width="2.4"/>
<line x1="122.0" y1="931.4" x2="128.4" y2="931.4" stroke="#000" stroke-width="2.4"/>
<line x1="122.0" y1="868.2" x2="128.4" y2="868.2" stroke="#000" stroke-width="2.4"/>
<line x1="122.0" y1="804.9" x2="128.4" y2="804.9" stroke="#000" stroke-width="2.4"/>
<line x1="122.0" y1="741.7" x2="128.4" y2="741.7" stroke="#000" stroke-width="2.4"/>
<line x1="181.4" y1="1184.4" x2="181.4" y2="1177.9" stroke="#000" stroke-width="2.4"/>
<line x1="241.2" y1="1184.4" x2="241.2" y2="1177.9" stroke="#000" stroke-width="2.4"/>
<line x1="300.9" y1="1184.4" x2="300.9" y2="1177.9" stroke="#000" stroke-width="2.4"/>
<line x1="360.7" y1="1184.4" x2="360.7" y2="1177.9" stroke="#000" stroke-width="2.4"/>
<line x1="420.4" y1="1184.4" x2="420.4" y2="1177.9" stroke="#000" stroke-width="2.4"/>
<line x1="480.2" y1="1184.4" x2="480.2" y2="1177.9" stroke="#000" stroke-width="2.4"/>
<line x1="540.0" y1="1184.4" x2="540.0" y2="1177.9" stroke="#000" stroke-width="2.4"/>
<line x1="599.7" y1="1184.4" x2="599.7" y2="1177.9" stroke="#000" stroke-width="2.4"/>
<text x="95.0" y="1192.9" font-size="24.0" fill="#000" stroke="#000" stroke-width="0.30" font-weight="normal" text-anchor="end">0</text>
<text x="95.0" y="1066.4" font-size="24.0" fill="#000" stroke="#000" stroke-width="0.30" font-weight="normal" text-anchor="end" textLength="49.5" lengthAdjust="spacingAndGlyphs">0.25</text>
<text x="95.0" y="940.0" font-size="24.0" fill="#000" stroke="#000" stroke-width="0.30" font-weight="normal" text-anchor="end" textLength="36.0" lengthAdjust="spacingAndGlyphs">0.5</text>
<text x="95.0" y="813.5" font-size="24.0" fill="#000" stroke="#000" stroke-width="0.30" font-weight="normal" text-anchor="end" textLength="49.5" lengthAdjust="spacingAndGlyphs">0.75</text>
<text x="95.0" y="687.1" font-size="24.0" fill="#000" stroke="#000" stroke-width="0.30" font-weight="normal" text-anchor="end">1</text>
<text x="121.7" y="1230.0" font-size="24.0" fill="#000" stroke="#000" stroke-width="0.30" font-weight="normal" text-anchor="middle">0</text>
<text x="241.2" y="1230.0" font-size="24.0" fill="#000" stroke="#000" stroke-width="0.30" font-weight="normal" text-anchor="middle" textLength="36.0" lengthAdjust="spacingAndGlyphs">0.5</text>
<text x="360.7" y="1230.0" font-size="24.0" fill="#000" stroke="#000" stroke-width="0.30" font-weight="normal" text-anchor="middle">1</text>
<text x="480.2" y="1230.0" font-size="24.0" fill="#000" stroke="#000" stroke-width="0.30" font-weight="normal" text-anchor="middle" textLength="36.5" lengthAdjust="spacingAndGlyphs">1.5</text>
<text x="599.7" y="1230.0" font-size="24.0" fill="#000" stroke="#000" stroke-width="0.30" font-weight="normal" text-anchor="middle">2</text>
<text x="1.7" y="687.2" font-size="41.3" fill="#000" stroke="#000" stroke-width="0.20" font-weight="bold" text-anchor="start" textLength="52.8" lengthAdjust="spacingAndGlyphs">[b]</text>
<text x="-2.56" y="0" font-size="32.5" fill="#000" stroke="#000" stroke-width="0.3" textLength="256.37" lengthAdjust="spacingAndGlyphs" transform="translate(28.50,1054.30) rotate(-90)">Potential / V vs. Li</text>
<text x="164.1" y="1276.4" font-size="31.5" fill="#000" stroke="#000" stroke-width="0.30" font-weight="normal" text-anchor="start" textLength="111.8" lengthAdjust="spacingAndGlyphs">Specific</text>
<text x="283.3" y="1276.4" font-size="31.5" fill="#000" stroke="#000" stroke-width="0.30" font-weight="normal" text-anchor="start" textLength="135.6" lengthAdjust="spacingAndGlyphs">Capacity/</text>
<text x="426.5" y="1276.4" font-size="31.5" fill="#000" stroke="#000" stroke-width="0.30" font-weight="normal" text-anchor="start" textLength="126.7" lengthAdjust="spacingAndGlyphs">mAh/cm</text>
<text x="552.6" y="1266.3" font-size="17.0" fill="#000" stroke="#000" stroke-width="0.30" font-weight="normal" text-anchor="start" textLength="10.1" lengthAdjust="spacingAndGlyphs">2</text>
</svg>
</body></html>
